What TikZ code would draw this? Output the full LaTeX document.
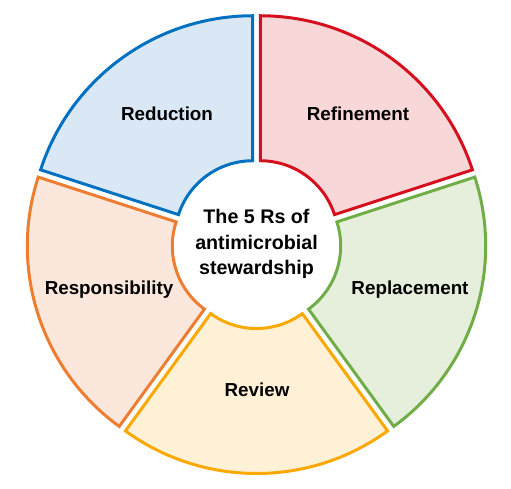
\documentclass[tikz,border=0pt]{standalone}
\usepackage{fontspec}
\setmainfont{Liberation Sans}
\definecolor{reductionblue}{HTML}{0070C0}
\definecolor{reductionfill}{HTML}{DAE8F5}
\definecolor{refinementred}{HTML}{D50F1E}
\definecolor{refinementfill}{HTML}{F8D7D9}
\definecolor{replacementgreen}{HTML}{70AD47}
\definecolor{replacementfill}{HTML}{E5EFDC}
\definecolor{reviewgold}{HTML}{FBA800}
\definecolor{reviewfill}{HTML}{FFF1D6}
\definecolor{responsibilityorange}{HTML}{ED7D31}
\definecolor{responsibilityfill}{HTML}{FCE7DC}
\tikzset{
    ringsector/.style={
        line width=1.7pt,
        line join=miter
    },
    sectorlabel/.style={
        font=\bfseries\fontsize{10.7}{13}\selectfont,
        align=center
    },
    hublabel/.style={
        font=\bfseries\fontsize{11.2}{14.7}\selectfont,
        align=center
    }
}

\begin{document}
\begin{tikzpicture}[x=0.02cm,y=0.02cm]
    \useasboundingbox (0,0) rectangle (511,488);
    \coordinate (hub) at (256.5,244);

    % five sectors, each pushed out a little along its bisector
    \begin{scope}[shift={(hub)}]
        \foreach \s/\c/\f in {90/reductionblue/reductionfill,
                              18/refinementred/refinementfill,
                              -54/replacementgreen/replacementfill,
                              -126/reviewgold/reviewfill,
                              162/responsibilityorange/responsibilityfill}
        {
            \begin{scope}[shift={({\s+36}:6.5)}]
                \draw[ringsector,draw=\c,fill=\f]
                    (\s:78) -- (\s:223)
                    arc[start angle=\s, delta angle=72, radius=223]
                    -- ({\s+72}:78)
                    arc[start angle=\s+72, delta angle=-72, radius=78]
                    -- cycle;
            \end{scope}
        }
    \end{scope}

    \node[hublabel] (title) at (hub) {The 5 Rs of\\antimicrobial\\stewardship};
    \node[sectorlabel] (reduction) at (167,374) {Reduction};
    \node[sectorlabel] (refinement) at (358,374) {Refinement};
    \node[sectorlabel] (replacement) at (410,198) {Replacement};
    \node[sectorlabel] (review) at (257,98) {Review};
    \node[sectorlabel] (responsibility) at (109,198) {Responsibility};
\end{tikzpicture}
\end{document}
